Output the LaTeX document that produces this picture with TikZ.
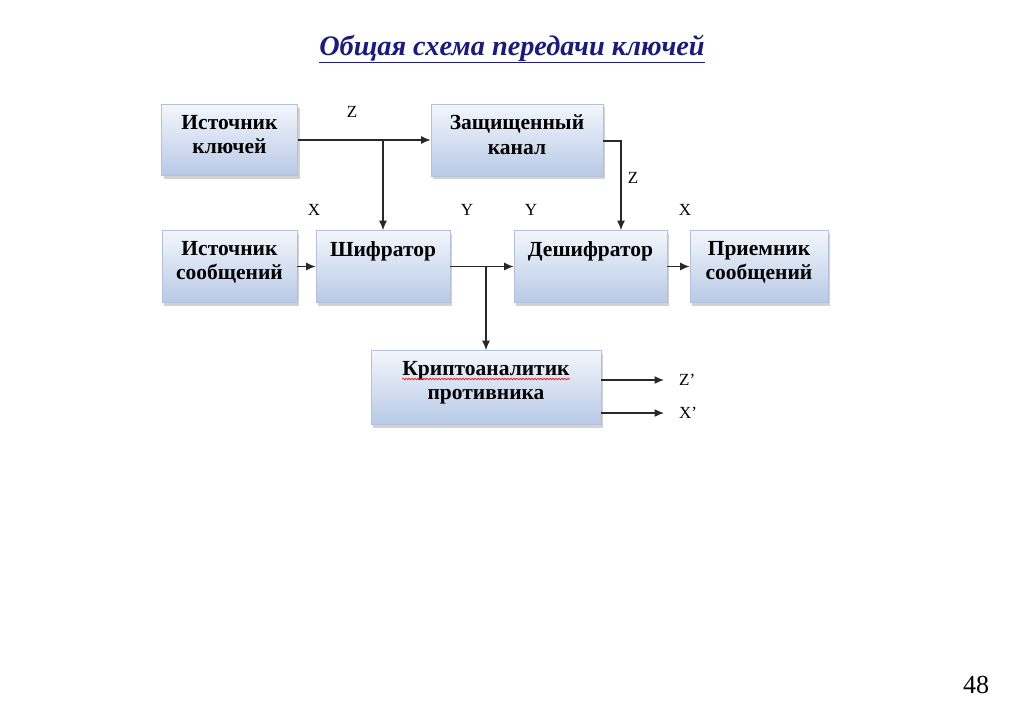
\documentclass[tikz,border=0pt]{standalone}
\usepackage{fontspec}
\setmainfont{Liberation Serif}
\usetikzlibrary{arrows.meta,positioning,shadows,decorations.pathmorphing}

\definecolor{boxtop}{RGB}{243,246,252}
\definecolor{boxbottom}{RGB}{184,201,230}
\definecolor{boxline}{RGB}{178,192,218}
\definecolor{titleblue}{RGB}{26,26,128}
\definecolor{wire}{RGB}{40,40,40}

\tikzset{
  block/.style={rectangle, draw=boxline, line width=0.6pt,
    top color=boxtop, bottom color=boxbottom, inner sep=0pt,
    drop shadow={shadow xshift=2pt, shadow yshift=-3pt, opacity=0.35}},
  blocktext/.style={align=center, inner sep=0pt,
    font=\fontsize{21.5}{24.5}\selectfont\bfseries},
  flow/.style={draw=wire, line width=1.3pt, -{Latex[length=9.5pt,width=8pt]}},
  sig/.style={font=\fontsize{17}{20}\selectfont, inner sep=0pt}
}

\begin{document}
\begin{tikzpicture}[x=1pt,y=-1pt]

    % page frame
    \useasboundingbox[fill=white] (0,0) rectangle (1024,723);

    % title
    \node[font=\fontsize{28.3}{32}\selectfont\bfseries\itshape, text=titleblue]
      (title) at (512,49) {\underline{Общая схема передачи ключей}};

    % The blocks
    \node[block, minimum width=136pt, minimum height=71pt] (keysrc) at (229.5,140) {};
    \node[block, minimum width=172pt, minimum height=72pt] (chan) at (517,140) {};
    \node[block, minimum width=135pt, minimum height=72pt] (msgsrc) at (229.5,266.5) {};
    \node[block, minimum width=134pt, minimum height=72pt] (enc) at (383,266.5) {};
    \node[block, minimum width=153pt, minimum height=72pt] (dec) at (590.5,266.5) {};
    \node[block, minimum width=138pt, minimum height=72pt] (recv) at (759,266.5) {};
    \node[block, minimum width=230pt, minimum height=74pt] (crypt) at (486,387.5) {};

    % Labels in the blocks
    \node[blocktext, below=11pt of keysrc.north] (keysrctxt) {Источник\\ключей};
    \node[blocktext, below=11pt of chan.north] (chantxt) {Защищенный\\канал};
    \node[blocktext, below=11pt of msgsrc.north] (msgsrctxt) {Источник\\сообщений};
    \node[blocktext, below=11pt of enc.north] (enctxt) {Шифратор};
    \node[blocktext, below=11pt of dec.north] (dectxt) {Дешифратор};
    \node[blocktext, below=11pt of recv.north] (recvtxt) {Приемник\\сообщений};
    \node[blocktext, below=11pt of crypt.north] (crypttxt) {Криптоаналитик\\противника};

    % spell-check squiggle
    \draw[red, line width=0.6pt, decorate,
          decoration={snake, amplitude=0.9pt, segment length=3pt}]
      (crypttxt.north west |- 0,379) -- (crypttxt.north east |- 0,379);

    % key path
    \coordinate (zdown) at (621,141);
    \draw[flow] (keysrc.east) -- (chan.west);
    \draw[flow] (keysrc.east -| enc.north) -- (enc.north);
    \draw[flow] (chan.east |- zdown) -- (zdown) -- (zdown |- dec.north);

    % message path
    \draw[flow] (msgsrc.east) -- (enc.west);
    \draw[flow] (enc.east) -- (dec.west);
    \draw[flow] (enc.east -| crypt.north) -- (crypt.north);
    \draw[flow] (dec.east) -- (recv.west);

    % outputs of the opponent
    \coordinate (zout) at (664,380);
    \coordinate (xout) at (664,413);
    \draw[flow] (crypt.east |- zout) -- (zout);
    \draw[flow] (crypt.east |- xout) -- (xout);

    % signal names
    \node[sig] (zkey) at (352,112) {Z};
    \node[sig] (zchan) at (633,178) {Z};
    \node[sig] (xin) at (314,210) {X};
    \node[sig] (yout) at (467,210) {Y};
    \node[sig] (yin) at (531,210) {Y};
    \node[sig] (xrecv) at (685,210) {X};
    \node[sig, right=15pt of zout] (zest) {Z’};
    \node[sig, right=15pt of xout] (xest) {X’};

    % page number
    \node[font=\fontsize{26}{30}\selectfont] (pagenum) at (976,685) {48};

\end{tikzpicture}
\end{document}
